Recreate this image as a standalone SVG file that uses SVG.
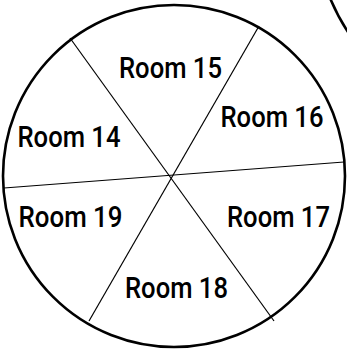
<svg xmlns="http://www.w3.org/2000/svg" width="347" height="350" viewBox="0 0 347 350">
<style>
.outline{fill:none;stroke:#000;stroke-width:2.6}
.div{stroke:#000;stroke-width:1.2;fill:none}
.lbl{font-family:"Roboto","Liberation Sans",sans-serif;font-weight:500;font-size:29px;fill:#000;text-anchor:middle}
</style>
<rect width="347" height="350" fill="#fff"/>
<circle class="outline" cx="174" cy="176" r="171"/>
<path class="outline" d="M330,-2 Q338,17 348,32"/>
<g id="connectors">
<line class="div" x1="70" y1="38" x2="274" y2="321"/>
<line class="div" x1="259" y1="26" x2="89" y2="321"/>
<line class="div" x1="4" y1="188" x2="344" y2="162"/>
</g>
<g id="room15"><text class="lbl" x="170.5" y="78" textLength="103" lengthAdjust="spacingAndGlyphs">Room 15</text></g>
<g id="room16"><text class="lbl" x="272" y="127" textLength="103" lengthAdjust="spacingAndGlyphs">Room 16</text></g>
<g id="room14"><text class="lbl" x="69" y="147" textLength="103" lengthAdjust="spacingAndGlyphs">Room 14</text></g>
<g id="room19"><text class="lbl" x="70.5" y="227" textLength="104" lengthAdjust="spacingAndGlyphs">Room 19</text></g>
<g id="room17"><text class="lbl" x="278.5" y="227" textLength="103" lengthAdjust="spacingAndGlyphs">Room 17</text></g>
<g id="room18"><text class="lbl" x="176.5" y="298" textLength="103" lengthAdjust="spacingAndGlyphs">Room 18</text></g>
</svg>
